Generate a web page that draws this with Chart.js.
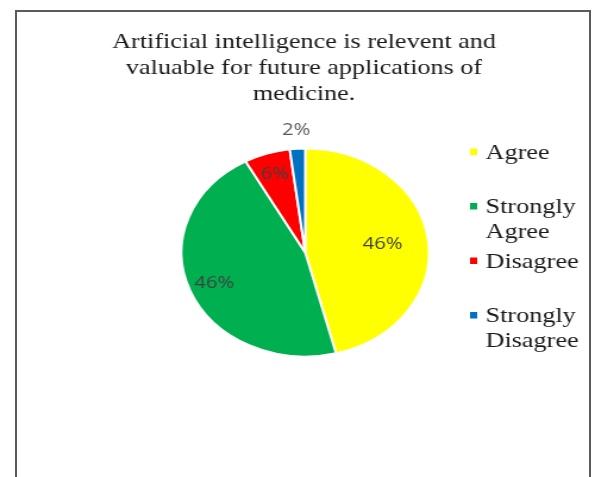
<!DOCTYPE html>
<html>
<head>
<meta charset="utf-8">
<script src="https://cdn.jsdelivr.net/npm/chart.js@4/dist/chart.umd.min.js"></script>
<style>
  html, body { margin: 0; padding: 0; background: #fff; overflow: hidden; }
  body { width: 595px; height: 477px; position: relative; }
  #frame { position: absolute; left: 15px; top: 10px; width: 576px; height: 520px; border: 2px solid #5a5a5a; box-sizing: border-box; }
  #wrap { position: absolute; left: 0; top: 0; width: 500px; height: 477px; transform: scaleX(1.19); transform-origin: 0 0; }
</style>
</head>
<body>
<div id="frame"></div>
<div id="wrap"><canvas id="c" width="500" height="477"></canvas></div>
<script>
// ---- data ----
const titleLines = ["Artificial intelligence is relevent and", "valuable for future applications of", "medicine."];
const categories = ["Agree", "Strongly Agree", "Disagree", "Strongly Disagree"];
const legendLines = [["Agree"], ["Strongly", "Agree"], ["Disagree"], ["Strongly", "Disagree"]];
const values = [46, 46, 6, 2];
const colors = ["#FFFF00", "#00B050", "#FF0000", "#0070C0"];

// label distance from centre, as a fraction of radius (style)
const labelRadius = [0.63, 0.79, 0.79, 1.18];
const labelColors = ["#404040", "#404040", "#404040", "#595959"];

const titlePlugin = {
  id: 'customTitle',
  afterDraw(chart) {
    const ctx = chart.ctx;
    ctx.save();
    ctx.font = '22px "Liberation Serif", "Times New Roman", serif';
    ctx.fillStyle = '#1a1a1a';
    ctx.textAlign = 'center';
    ctx.textBaseline = 'alphabetic';
    const cx = 255.5;
    titleLines.forEach((t, i) => ctx.fillText(t, cx, 47.5 + i * 26));
    ctx.restore();
  }
};

const labelPlugin = {
  id: 'sliceLabels',
  afterDatasetsDraw(chart) {
    const ctx = chart.ctx;
    const meta = chart.getDatasetMeta(0);
    const data = chart.data.datasets[0].data;
    const total = data.reduce((a, b) => a + b, 0);
    ctx.save();
    ctx.font = '17px "Open Sans", sans-serif';
    ctx.textAlign = 'center';
    ctx.textBaseline = 'middle';
    meta.data.forEach((arc, i) => {
      const p = arc.getProps(['x', 'y', 'startAngle', 'endAngle', 'outerRadius'], true);
      const mid = (p.startAngle + p.endAngle) / 2;
      const r = p.outerRadius * labelRadius[i];
      ctx.fillStyle = labelColors[i];
      ctx.fillText(Math.round(data[i] / total * 100) + '%', p.x + Math.cos(mid) * r, p.y + Math.sin(mid) * r);
    });
    ctx.restore();
  }
};

const legendPlugin = {
  id: 'customLegend',
  afterDraw(chart) {
    const ctx = chart.ctx;
    const bg = chart.data.datasets[0].backgroundColor;
    ctx.save();
    ctx.font = '22px "Liberation Serif", "Times New Roman", serif';
    ctx.textAlign = 'left';
    ctx.textBaseline = 'alphabetic';
    const sx = 395, tx = 408, y0 = 158.5, step = 54.5, lh = 24.5;
    chart.data.labels.forEach((lab, i) => {
      const by = y0 + i * step;
      ctx.fillStyle = bg[i];
      ctx.fillRect(sx, by - 10, 6, 6.5);
      ctx.fillStyle = '#1a1a1a';
      legendLines[i].forEach((ln, j) => ctx.fillText(ln, tx, by + j * lh));
    });
    ctx.restore();
  }
};

new Chart(document.getElementById('c'), {
  type: 'pie',
  data: {
    labels: categories,
    datasets: [{
      data: values,
      backgroundColor: colors,
      borderColor: '#ffffff',
      borderWidth: 2,
      hoverOffset: 0
    }]
  },
  options: {
    responsive: false,
    animation: false,
    devicePixelRatio: 1,
    layout: { padding: { left: 151.5, right: 138.5, top: 147.5, bottom: 119.5 } },
    plugins: {
      legend: { display: false },
      title: { display: false },
      tooltip: { enabled: false }
    }
  },
  plugins: [titlePlugin, labelPlugin, legendPlugin]
});
</script>
</body>
</html>
